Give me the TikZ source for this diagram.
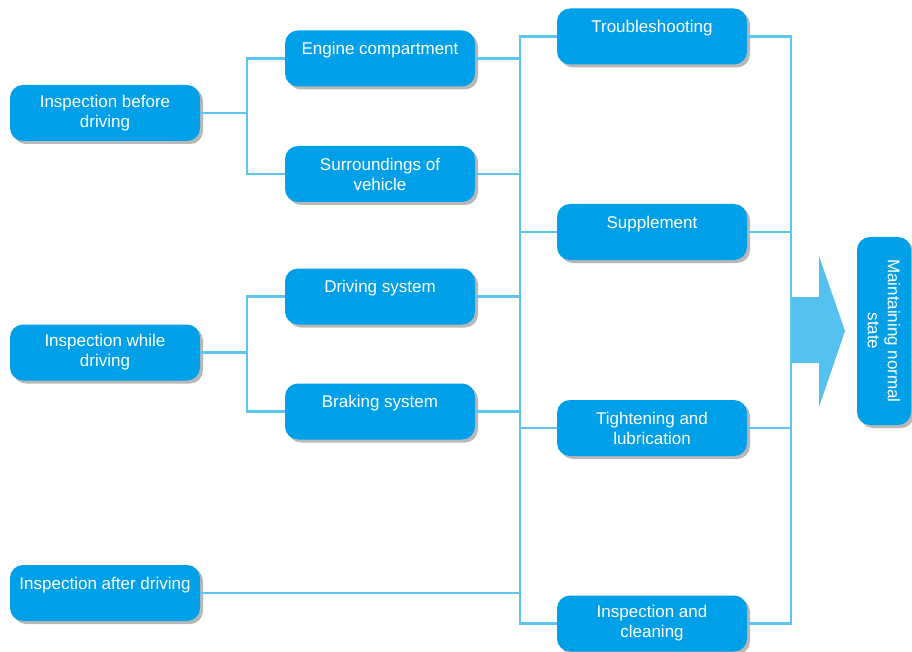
\documentclass[tikz,border=0pt]{standalone}
\usepackage{fontspec}
\setmainfont{Liberation Sans}
\usetikzlibrary{shadows}
\definecolor{boxblue}{RGB}{0,160,233}
\definecolor{linkblue}{RGB}{92,197,242}
\definecolor{arrowblue}{RGB}{85,193,240}

\begin{document}
\begin{tikzpicture}[
    x=1pt, y=-1pt,
    item/.style={rectangle, rounded corners=13pt, fill=boxblue, text=white, minimum width=190pt, minimum height=56pt, align=center, font=\fontsize{17}{20}\selectfont, drop shadow={shadow xshift=3pt, shadow yshift=-3pt, opacity=0.28, fill=black}},
    link/.style={draw=linkblue, line width=2.5pt}
]
    \useasboundingbox (0,0) rectangle (912,652);

    % Inspections
    \node[item] (before) at (105, 113) {Inspection before\\driving};
    \node[item] (during) at (105, 352.5) {Inspection while\\driving};
    \node[item] (after) at (105, 593) {Inspection after driving\\[-6pt]\strut};

    % Parts checked
    \node[item] (engine) at (380, 58.5) {Engine compartment\\[-6pt]\strut};
    \node[item] (surround) at (380, 174) {Surroundings of\\vehicle};
    \node[item] (drivesys) at (380, 296.5) {Driving system\\[-6pt]\strut};
    \node[item] (brake) at (380, 411.5) {Braking system\\[-6pt]\strut};

    % Maintenance work
    \node[item] (trouble) at (652, 36.5) {Troubleshooting\\[-6pt]\strut};
    \node[item] (supp) at (652, 232) {Supplement\\[-6pt]\strut};
    \node[item] (tight) at (652, 428) {Tightening and\\lubrication};
    \node[item] (clean) at (652, 623.5) {Inspection and\\cleaning};

    % Result
    \node[item, rotate=-90, minimum width=188pt, minimum height=54pt] (state) at (884, 331) {Maintaining normal\\state};

    % Bus lines
    \coordinate (mbus) at (520, 0);
    \coordinate (rbus) at (791, 0);

    % Left branches
    \draw[link] (before.east) -- ++(47, 0) |- (engine.west);
    \draw[link] (before.east) ++(47, 0) |- (surround.west);
    \draw[link] (during.east) -- ++(47, 0) |- (drivesys.west);
    \draw[link] (during.east) ++(47, 0) |- (brake.west);

    % Middle bus
    \draw[link] (trouble.west) -- (trouble.west -| mbus) |- (clean.west);
    \draw[link] (mbus |- supp.west) -- (supp.west);
    \draw[link] (mbus |- tight.west) -- (tight.west);
    \draw[link] (engine.east) -- (engine.east -| mbus);
    \draw[link] (surround.east) -- (surround.east -| mbus);
    \draw[link] (drivesys.east) -- (drivesys.east -| mbus);
    \draw[link] (brake.east) -- (brake.east -| mbus);
    \draw[link] (after.east) -- (after.east -| mbus);

    % Right bus
    \draw[link] (trouble.east) -- (trouble.east -| rbus) |- (clean.east);
    \draw[link] (supp.east) -- (supp.east -| rbus);
    \draw[link] (tight.east) -- (tight.east -| rbus);

    % Big arrow
    \fill[arrowblue] (792, 297) -- (819, 297) -- (819, 256) -- (845, 331) -- (819, 407) -- (819, 363) -- (792, 363) -- cycle;
\end{tikzpicture}
\end{document}
